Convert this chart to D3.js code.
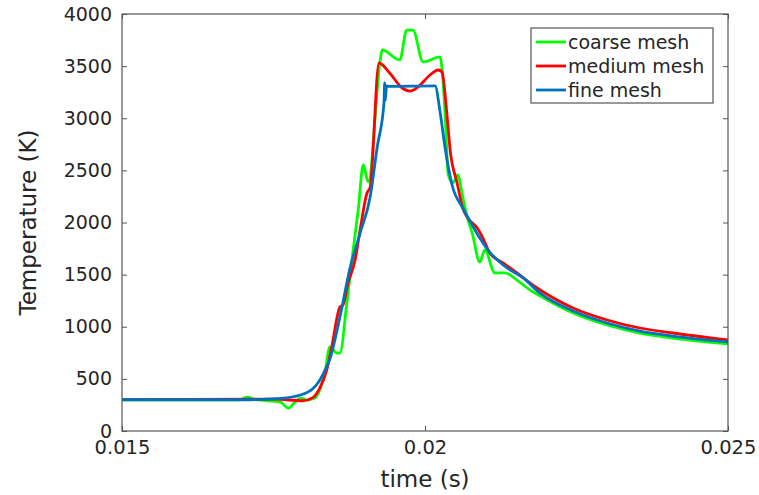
<!DOCTYPE html>
<html>
<head>
<meta charset="utf-8">
<script src="https://cdn.jsdelivr.net/npm/d3@7"></script>
<style>
  body { margin: 0; background: #fff; }
  text { font-family: "DejaVu Sans", sans-serif; fill: #262626; }
</style>
</head>
<body>
<div id="vis"></div>
<script>
// data: [time (s), temperature (K)]
const coarse = [
  [0.0150, 300], [0.016943, 300], [0.017068, 325], [0.017203, 300], [0.017608, 280],
  [0.017744, 220], [0.017858, 280], [0.017941, 316], [0.018055, 297], [0.01818, 316],
  [0.018263, 393], [0.018347, 556], [0.01843, 806], [0.018544, 748], [0.018596, 748],
  [0.01871, 1228], [0.018814, 1736], [0.018898, 2120], [0.018981, 2552], [0.019064, 2388],
  [0.019261, 3559], [0.019293, 3655], [0.019584, 3559], [0.019698, 3846], [0.019802, 3846],
  [0.019968, 3540], [0.020249, 3588], [0.02028, 3482], [0.020332, 3031], [0.020384, 2456],
  [0.020457, 2379], [0.02054, 2456], [0.020623, 2245], [0.020696, 2053], [0.020779, 1899],
  [0.020904, 1621], [0.020987, 1736], [0.021153, 1516], [0.02132, 1516], [0.021517, 1448],
  [0.021736, 1352], [0.021902, 1295], [0.022443, 1132], [0.023004, 1017], [0.023545, 940],
  [0.024096, 892], [0.025, 835]
];
const medium = [
  [0.0150, 300], [0.017515, 305], [0.017983, 290], [0.018149, 320], [0.018263, 412],
  [0.018378, 585], [0.018461, 806], [0.018596, 1189], [0.018648, 1209], [0.018731, 1420],
  [0.018846, 1640], [0.018929, 1928], [0.019043, 2283], [0.019095, 2340], [0.019241, 3530],
  [0.019417, 3434], [0.019625, 3290], [0.01975, 3261], [0.019885, 3300], [0.020083, 3415],
  [0.020218, 3463], [0.02028, 3444], [0.020363, 3031], [0.020415, 2695], [0.02053, 2379],
  [0.020623, 2139], [0.020706, 2043], [0.020862, 1947], [0.020956, 1851], [0.02107, 1707],
  [0.021289, 1612], [0.021517, 1516], [0.02185, 1372], [0.022443, 1180], [0.023004, 1065],
  [0.023545, 988], [0.024096, 940], [0.025, 873]
];
const fine = [
  [0.0150, 300], [0.017109, 300], [0.017619, 312], [0.017941, 345], [0.018139, 400],
  [0.018232, 460], [0.018347, 580], [0.01843, 690], [0.018596, 1094], [0.018762, 1560],
  [0.018929, 1899], [0.019095, 2245], [0.019209, 2715], [0.019324, 3156], [0.019334, 3340],
  [0.019345, 3170], [0.019365, 3310], [0.019407, 3305], [0.020166, 3310], [0.020249, 3060],
  [0.020332, 2715], [0.020447, 2360], [0.020623, 2139], [0.020779, 1976], [0.020904, 1851],
  [0.021039, 1736], [0.021289, 1592], [0.021621, 1468], [0.021902, 1320], [0.022443, 1151],
  [0.023004, 1036], [0.023545, 959], [0.024096, 911], [0.025, 854]
];
const seriesNames = ["coarse mesh", "medium mesh", "fine mesh"];
const seriesColors = ["#00ff00", "#ff0000", "#0072bd"];
const xTicks = [0.015, 0.02, 0.025];
const yTicks = [0, 500, 1000, 1500, 2000, 2500, 3000, 3500, 4000];

const W = 759, H = 495;
const m = { left: 122, right: 31, top: 14, bottom: 64 };

const svg = d3.select("#vis").append("svg")
  .attr("width", W)
  .attr("height", H);

const x = d3.scaleLinear().domain([0.015, 0.025]).range([m.left, W - m.right]);
const y = d3.scaleLinear().domain([0, 4000]).range([H - m.bottom, m.top]);

const axisColor = "#262626";
const boxColor = "#555";
const fmtX = d => String(+d.toFixed(3));

// ticks on all four sides, pointing in
const ax = (gen, tr) => {
  const g = svg.append("g").attr("transform", tr).call(gen);
  g.select(".domain").remove();
  g.selectAll("line").attr("stroke", boxColor);
  return g;
};
const xb = ax(d3.axisBottom(x).tickValues(xTicks).tickSize(-5).tickPadding(9).tickFormat(fmtX),
  `translate(0,${H - m.bottom})`);
xb.selectAll("text").attr("font-size", 19.5).attr("dy", "0.71em");
ax(d3.axisTop(x).tickValues(xTicks).tickSize(-5).tickFormat(""), `translate(0,${m.top})`);
const yl = ax(d3.axisLeft(y).tickValues(yTicks).tickSize(-5).tickPadding(10).tickFormat(d3.format("d")),
  `translate(${m.left},0)`);
yl.selectAll("text").attr("font-size", 19);
ax(d3.axisRight(y).tickValues(yTicks).tickSize(-5).tickFormat(""), `translate(${W - m.right},0)`);
svg.selectAll(".tick text").attr("fill", axisColor).style("font-family", "DejaVu Sans");

const line = d3.line()
  .x(d => x(d[0]))
  .y(d => y(d[1]))
  .curve(d3.curveMonotoneX);

const plot = svg.append("g");
[coarse, medium, fine].forEach((s, i) => {
  plot.append("path")
    .datum(s)
    .attr("fill", "none")
    .attr("stroke", seriesColors[i])
    .attr("stroke-width", 2.8)
    .attr("stroke-linejoin", "round")
    .attr("d", line);
});

// box
svg.append("rect")
  .attr("x", m.left).attr("y", m.top)
  .attr("width", W - m.left - m.right)
  .attr("height", H - m.top - m.bottom)
  .attr("fill", "none")
  .attr("stroke", boxColor)
  .attr("stroke-width", 1.2);

// axis labels
svg.append("text")
  .attr("x", (m.left + W - m.right) / 2)
  .attr("y", 487)
  .attr("text-anchor", "middle")
  .attr("font-size", 23)
  .text("time (s)");
svg.append("text")
  .attr("transform", `translate(36,${(m.top + H - m.bottom) / 2}) rotate(-90)`)
  .attr("text-anchor", "middle")
  .attr("font-size", 23)
  .text("Temperature (K)");

// legend
const lg = svg.append("g").attr("transform", "translate(531,28)");
lg.append("rect")
  .attr("width", 182).attr("height", 75)
  .attr("fill", "#fff")
  .attr("stroke", boxColor)
  .attr("stroke-width", 1.2);
seriesNames.forEach((n, i) => {
  const yy = 14 + i * 24;
  lg.append("line")
    .attr("x1", 5).attr("x2", 35)
    .attr("y1", yy).attr("y2", yy)
    .attr("stroke", seriesColors[i])
    .attr("stroke-width", 2.8);
  lg.append("text")
    .attr("x", 37).attr("y", yy)
    .attr("dy", "0.35em")
    .attr("font-size", 19)
    .text(n);
});
</script>
</body>
</html>
